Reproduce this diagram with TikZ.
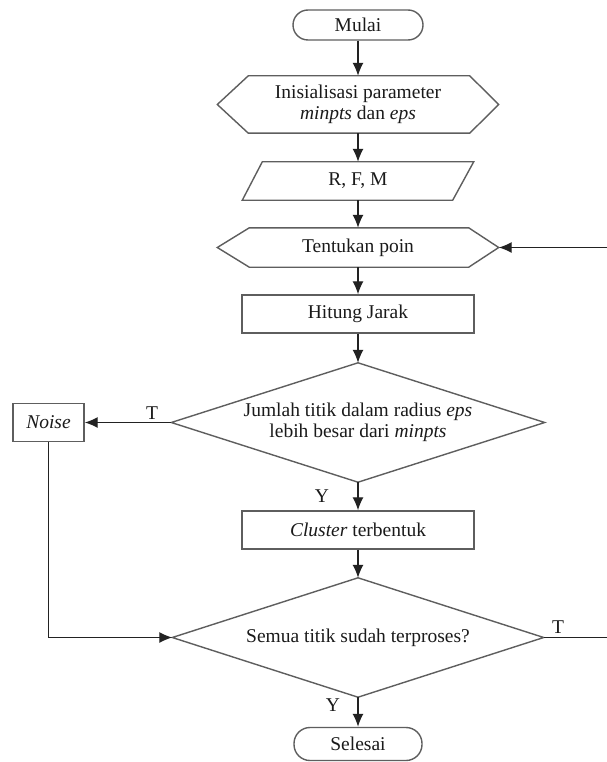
\documentclass[tikz,border=0pt]{standalone}
\usepackage{fontspec}
\setmainfont{Liberation Serif}
\usetikzlibrary{arrows.meta,calc}
\definecolor{shapeline}{HTML}{5E5E5E}
\definecolor{connline}{HTML}{222222}
\definecolor{txt}{HTML}{1A1A1A}
\newcommand\mytext{\fontsize{19.5}{21.5}\selectfont\color{txt}}
\begin{document}
\begin{tikzpicture}[x=1pt,y=-1pt,
  ghost/.style={inner sep=0pt, align=center, font=\mytext},
  box/.style={ghost, draw=shapeline, line width=1.4pt},
  shp/.style={draw=shapeline, line width=1.4pt},
  conn/.style={draw=connline, line width=1.3pt, -{Latex[length=13pt,width=11pt]}},
  lbl/.style={inner sep=0pt, font=\mytext}]
\useasboundingbox[fill=white] (0,0) rectangle (606,762);

% nodes
\node[box, rounded corners=15pt, minimum width=130pt, minimum height=30pt] (mulai) at (358,25) {Mulai};
\node[ghost, minimum width=281pt, minimum height=57pt] (init) at (358,104.5) {Inisialisasi parameter\\\textit{minpts} dan \textit{eps}};
\node[ghost, minimum width=231pt, minimum height=38pt] (rfm) at (358,181) {R, F, M};
\node[ghost, minimum width=281pt, minimum height=39pt] (tent) at (358,247.5) {Tentukan poin};
\node[box, minimum width=232pt, minimum height=38pt] (hit) at (358,314) {Hitung Jarak};
\node[ghost, minimum width=373pt, minimum height=119pt] (d1) at (358,422.5) {Jumlah titik dalam radius \textit{eps}\\lebih besar dari \textit{minpts}};
\node[box, minimum width=71pt, minimum height=38pt] (noise) at (48.5,422.5) {\textit{Noise}};
\node[box, minimum width=232pt, minimum height=38pt] (clus) at (358,530) {\textit{Cluster} terbentuk};
\node[ghost, minimum width=371pt, minimum height=119pt] (d2) at (358,637.5) {Semua titik sudah terproses?};
\node[box, rounded corners=16pt, minimum width=128pt, minimum height=33pt] (selesai) at (358,744) {Selesai};

% shapes drawn around ghost nodes
\draw[shp] (init.west) -- ($(init.north west)+(31,0)$) -- ($(init.north east)+(-29,0)$) -- (init.east)
  -- ($(init.south east)+(-29,0)$) -- ($(init.south west)+(31,0)$) -- cycle;
\draw[shp] ($(rfm.north west)+(20,0)$) -- (rfm.north east) -- ($(rfm.south east)+(-21,0)$) -- (rfm.south west) -- cycle;
\draw[shp] (tent.west) -- ($(tent.north west)+(32,0)$) -- ($(tent.north east)+(-30,0)$) -- (tent.east)
  -- ($(tent.south east)+(-30,0)$) -- ($(tent.south west)+(32,0)$) -- cycle;
\draw[shp] (d1.north) -- (d1.east) -- (d1.south) -- (d1.west) -- cycle;
\draw[shp] (d2.north) -- (d2.east) -- (d2.south) -- (d2.west) -- cycle;

% connectors
\draw[conn] (mulai.south) -- (init.north);
\draw[conn] (init.south) -- (rfm.north);
\draw[conn] (rfm.south) -- (tent.north);
\draw[conn] (tent.south) -- (hit.north);
\draw[conn] (hit.south) -- (d1.north);
\draw[conn] (d1.west) -- (noise.east);
\draw[conn] (d1.south) -- (clus.north);
\draw[conn] (clus.south) -- (d2.north);
\draw[conn] (noise.south) |- (d2.west);
\draw[conn] (d2.south) -- (selesai.north);
\coordinate (loopx) at (610,0);
\draw[conn] (d2.east) -- (d2.east -| loopx) -- (tent.east -| loopx) -- (tent.east);

% labels
\node[lbl] (lt1) at (152,413) {T};
\node[lbl] (ly1) at (322,496) {Y};
\node[lbl] (lt2) at (558,627) {T};
\node[lbl] (ly2) at (333,705) {Y};
\end{tikzpicture}
\end{document}
